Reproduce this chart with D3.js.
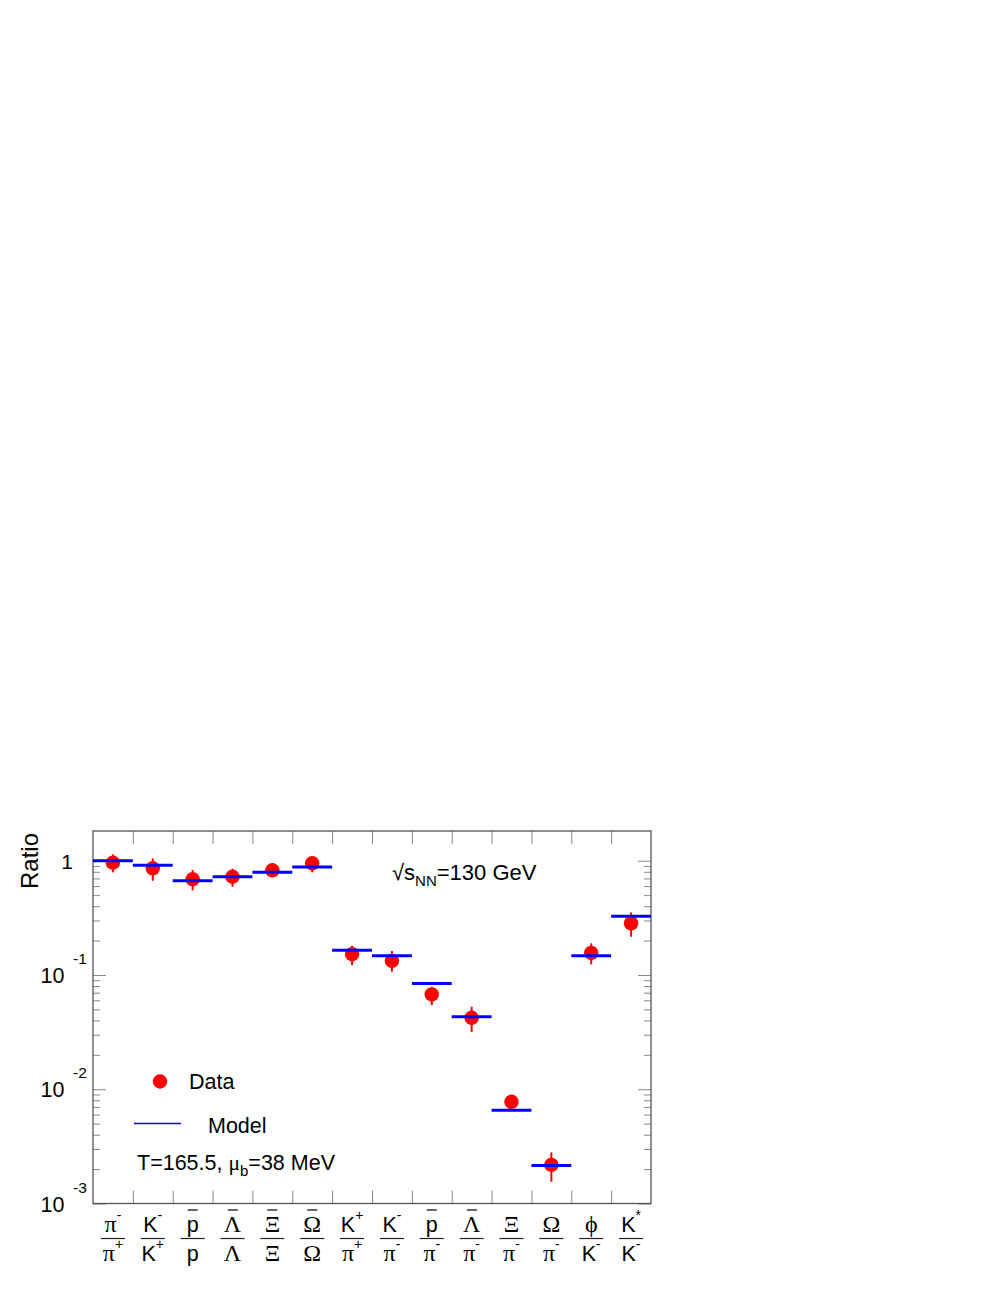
<!DOCTYPE html>
<html>
<head>
<meta charset="utf-8">
<script src="https://cdn.jsdelivr.net/npm/d3@7"></script>
<style>
  body { margin: 0; background: #fff; }
  svg { display: block; }
  text { font-family: "Liberation Sans", Arial, sans-serif; fill: #000; }
  .greek { font-family: "Liberation Serif", "DejaVu Serif", serif; }
</style>
</head>
<body>
<svg id="chart" width="1003" height="1297"></svg>
<script>
// ---------------- data ----------------
const categories = ["pim/pip","Km/Kp","pbar/p","Lbar/L","Xibar/Xi","Omebar/Ome","Kp/pip","Km/pim","pbar/pim","Lbar/pim","Xi/pim","Ome/pim","phi/Km","Kstar/Km"];
const dataValues = [0.96, 0.858, 0.688, 0.724, 0.824, 0.949, 0.152, 0.133, 0.0676, 0.0422, 0.00776, 0.00218, 0.156, 0.283];
const errHigh    = [1.138, 1.049, 0.829, 0.851, 0.850, 1.000, 0.180, 0.162, 0.0788, 0.0527, 0.0080, 0.0028, 0.189, 0.353];
const errLow     = [0.791, 0.668, 0.551, 0.592, 0.800, 0.791, 0.122, 0.107, 0.0545, 0.0318, 0.0075, 0.00155, 0.124, 0.216];
const modelValues = [1.0, 0.911, 0.668, 0.724, 0.791, 0.881, 0.165, 0.147, 0.0844, 0.043, 0.00656, 0.00215, 0.147, 0.326];

// x-axis fraction labels
const numBase = ["π","K","p","Λ","Ξ","Ω","K","K","p","Λ","Ξ","Ω","ϕ","K"];
const numSup  = ["-","-","","","","","+","-","","","","","","*"];
const numBar  = [false,false,true,true,true,true,false,false,true,true,false,false,false,false];
const denBase = ["π","K","p","Λ","Ξ","Ω","π","π","π","π","π","π","K","K"];
const denSup  = ["+","+","","","","","+","-","-","-","-","-","-","-"];
const greekSet = new Set(["π","Λ","Ξ","Ω","ϕ"]);

const yMajor = [1, 0.1, 0.01, 0.001];
const yMajorExp = ["", "-1", "-2", "-3"];
const yDomain = [0.001, 1.82];

// ---------------- layout ----------------
const L = 93, R = 651, T = 831, B = 1203.5;
const svg = d3.select("#chart");

const x = d3.scaleBand().domain(categories).range([L, R]).paddingInner(0).paddingOuter(0);
const xi = d3.scaleLinear().domain([0, categories.length]).range([L, R]);
const y = d3.scaleLog().domain(yDomain).range([B, T]);

// minor ticks
const yMinor = [];
for (let e = -3; e <= 0; e++) for (let m = 2; m <= 9; m++) {
  const v = m * Math.pow(10, e);
  if (v <= yDomain[1]) yMinor.push(v);
}

function styleAxis(g) {
  g.select(".domain").remove();
  g.selectAll("line").attr("stroke", "#888").attr("stroke-width", 1);
  g.selectAll("text").remove();
}

// y ticks left & right
svg.append("g").attr("transform", `translate(${L},0)`)
  .call(d3.axisLeft(y).tickValues(yMajor).tickSize(-13).tickFormat("")).call(styleAxis);
svg.append("g").attr("transform", `translate(${L},0)`)
  .call(d3.axisLeft(y).tickValues(yMinor).tickSize(-7).tickFormat("")).call(styleAxis);
svg.append("g").attr("transform", `translate(${R},0)`)
  .call(d3.axisRight(y).tickValues(yMajor).tickSize(-13).tickFormat("")).call(styleAxis);
svg.append("g").attr("transform", `translate(${R},0)`)
  .call(d3.axisRight(y).tickValues(yMinor).tickSize(-7).tickFormat("")).call(styleAxis);

// x ticks top & bottom at bin boundaries
const xTickVals = d3.range(1, categories.length);
svg.append("g").attr("transform", `translate(0,${T})`)
  .call(d3.axisTop(xi).tickValues(xTickVals).tickSize(-13).tickFormat("")).call(styleAxis);
svg.append("g").attr("transform", `translate(0,${B})`)
  .call(d3.axisBottom(xi).tickValues(xTickVals).tickSize(-13).tickFormat("")).call(styleAxis);

// frame
svg.append("rect").attr("x", L).attr("y", T).attr("width", R - L).attr("height", B - T)
  .attr("fill", "none").attr("stroke", "#555").attr("stroke-width", 1.3);

// y labels
yMajor.forEach((v, i) => {
  const ty = y(v);
  if (yMajorExp[i] === "") {
    svg.append("text").attr("x", 73).attr("y", ty + 8.5).attr("text-anchor", "end")
      .attr("font-size", 21).text("1");
  } else {
    svg.append("text").attr("x", 64.5).attr("y", ty + 8).attr("text-anchor", "end")
      .attr("font-size", 21.5).text("10");
    svg.append("text").attr("x", 73).attr("y", ty - 11).attr("font-size", 15.5).text(yMajorExp[i]);
  }
});

// y title
svg.append("text").attr("transform", `translate(38,833) rotate(-90)`)
  .attr("text-anchor", "end").attr("font-size", 24).text("Ratio");

// data error bars
const cx = d => x(d) + x.bandwidth() / 2;
svg.append("g").selectAll("line").data(categories).join("line")
  .attr("x1", cx).attr("x2", cx)
  .attr("y1", (d, i) => y(errHigh[i])).attr("y2", (d, i) => y(errLow[i]))
  .attr("stroke", "#ff0000").attr("stroke-width", 2);

// data markers
svg.append("g").selectAll("circle").data(categories).join("circle")
  .attr("cx", cx).attr("cy", (d, i) => y(dataValues[i])).attr("r", 7.2)
  .attr("fill", "#ff0000");

// model lines
svg.append("g").selectAll("line").data(categories).join("line")
  .attr("x1", d => x(d)).attr("x2", d => x(d) + x.bandwidth())
  .attr("y1", (d, i) => y(modelValues[i])).attr("y2", (d, i) => y(modelValues[i]))
  .attr("stroke", "#0000ff").attr("stroke-width", 3);

// energy label
const en = svg.append("text").attr("x", 392).attr("y", 880).attr("font-size", 22);
en.append("tspan").text("√s");
en.append("tspan").attr("font-size", 15).attr("dy", 6).text("NN");
en.append("tspan").attr("dy", -6).text("=130 GeV");

// legend
svg.append("circle").attr("cx", 160).attr("cy", 1081.5).attr("r", 7.2).attr("fill", "#ff0000");
svg.append("text").attr("x", 189).attr("y", 1088.5).attr("font-size", 21.5).text("Data");
svg.append("line").attr("x1", 134).attr("x2", 181).attr("y1", 1123.5).attr("y2", 1123.5)
  .attr("stroke", "#0000ff").attr("stroke-width", 1.5);
svg.append("text").attr("x", 208).attr("y", 1132.5).attr("font-size", 21.5).text("Model");
const tl = svg.append("text").attr("x", 137).attr("y", 1170).attr("font-size", 21.5);
tl.append("tspan").text("T=165.5, ");
tl.append("tspan").attr("class", "greek").text("μ");
tl.append("tspan").attr("font-size", 15).attr("dy", 6).text("b");
tl.append("tspan").attr("dy", -6).text("=38 MeV");

// x fraction labels
function addTerm(base, sup, xc, yb, bar) {
  const t = svg.append("text").attr("x", xc).attr("y", yb).attr("text-anchor", "middle");
  const g = greekSet.has(base);
  const b = t.append("tspan").attr("font-size", g ? 24 : 21.5).text(base);
  if (g) b.attr("class", "greek");
  if (sup) {
    t.append("tspan").attr("font-size", 14).attr("dy", -12).text(sup);
  }
  if (bar) {
    const bb = b.node().getBBox();
    const mid = bb.x + bb.width / 2;
    svg.append("line").attr("x1", mid - 5).attr("x2", mid + 5)
      .attr("y1", 1210).attr("y2", 1210).attr("stroke", "#000").attr("stroke-width", 1.2);
  }
}
categories.forEach((c, i) => {
  const xc = cx(c);
  addTerm(numBase[i], numSup[i], xc, 1231.5, numBar[i]);
  svg.append("line").attr("x1", xc - 12).attr("x2", xc + 12)
    .attr("y1", 1238.5).attr("y2", 1238.5).attr("stroke", "#222").attr("stroke-width", 1.2);
  addTerm(denBase[i], denSup[i], xc, 1260.5, false);
});
</script>
</body>
</html>
